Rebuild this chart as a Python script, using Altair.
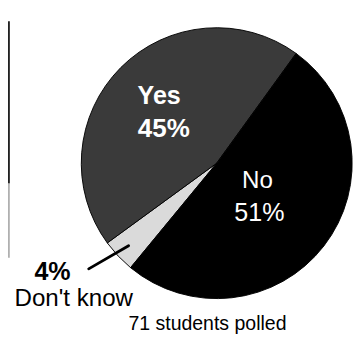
import math
import altair as alt
import pandas as pd

categories = ["Don't know", "Yes", "No"]
values = [4, 45, 51]
fills = ["#dadada", "#3a3a3a", "#000000"]

df = pd.DataFrame({"category": categories, "value": values, "ord": [0, 1, 2]})

start = math.radians(219.5)
FONT = "Liberation Sans"

pie = alt.Chart(df).mark_arc(outerRadius=146, stroke="#000", strokeWidth=1).encode(
    theta=alt.Theta("value:Q", stack=True, scale=alt.Scale(range=[start, start + 2 * math.pi])),
    color=alt.Color("category:N", scale=alt.Scale(domain=categories, range=fills), legend=None),
    order=alt.Order("ord:Q"),
    x=alt.value(225),
    y=alt.value(153),
)

def label(txt, x, y, size, color="#000", bold=False, align="center"):
    return alt.Chart(pd.DataFrame({"t": [txt]})).mark_text(
        font=FONT, fontSize=size, fontWeight="bold" if bold else "normal",
        color=color, align=align, baseline="alphabetic",
    ).encode(text="t:N", x=alt.value(x), y=alt.value(y))

texts = [
    label("Yes", 163, 89, 27, "#fff", True),
    label("45%", 168, 125, 28, "#fff", True),
    label("No", 269, 180, 26, "#fff"),
    label("51%", 271, 215, 27, "#fff"),
    label("4%", 48, 279, 27, "#000", True),
    label("Don't know", 7, 307, 26, "#000", False, "left"),
    label("71 students polled", 215, 333, 21),
]

leader = alt.Chart(pd.DataFrame({"a": [0]})).mark_rule(color="#000", strokeWidth=3, strokeCap="round").encode(
    x=alt.value(87), y=alt.value(267), x2=alt.value(130), y2=alt.value(242)
)

border_dark = alt.Chart(pd.DataFrame({"a": [0]})).mark_rule(color="#222", strokeWidth=2).encode(
    x=alt.value(1), y=alt.value(0), y2=alt.value(175)
)
border_gray = alt.Chart(pd.DataFrame({"a": [0]})).mark_rule(color="#999", strokeWidth=1.5).encode(
    x=alt.value(1), y=alt.value(175), y2=alt.value(255)
)

chart = alt.layer(pie, leader, border_dark, border_gray, *texts).properties(
    width=354, height=339, padding=0
).configure_view(stroke=None)

chart.save("out.html", embed_options={"renderer": "svg", "actions": False})
